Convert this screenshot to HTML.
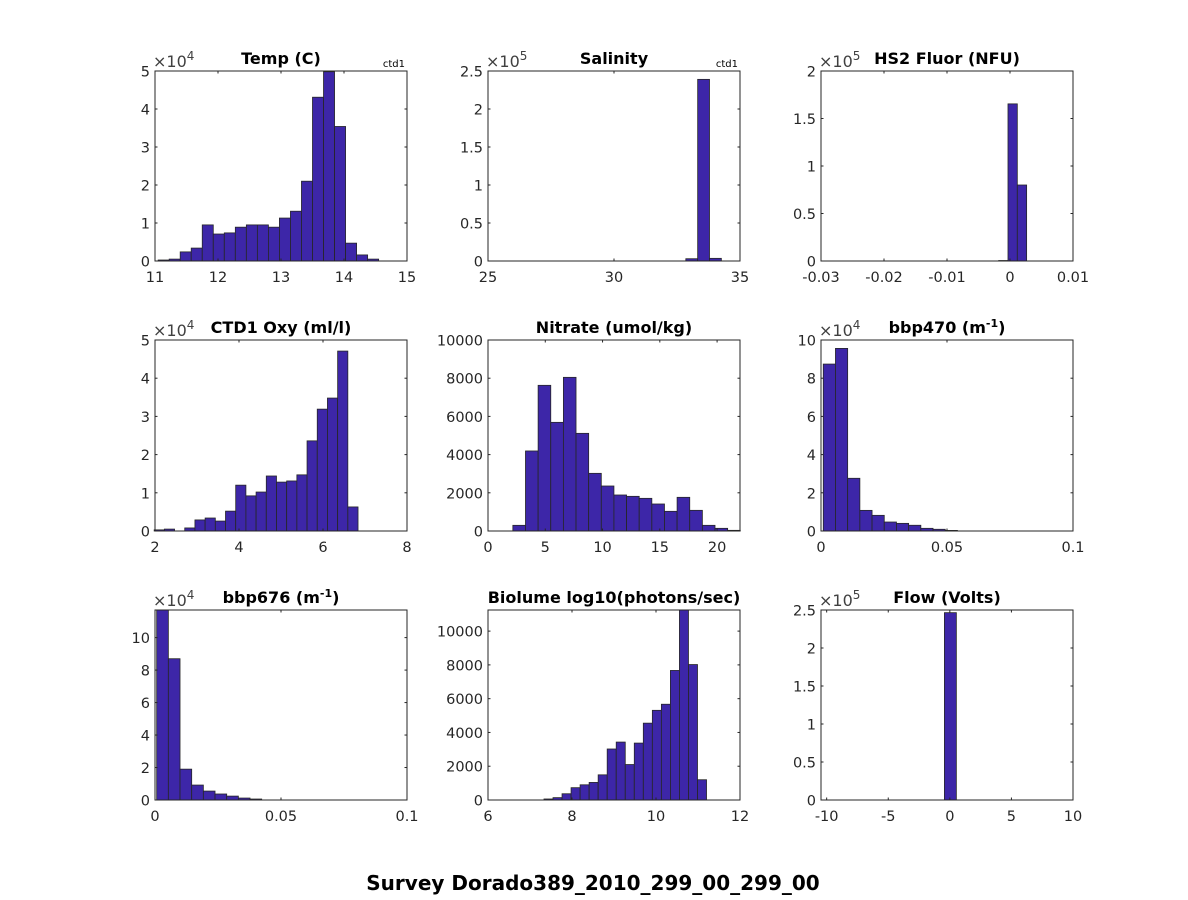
<!DOCTYPE html>
<html><head><meta charset="utf-8"><style>
html,body{margin:0;padding:0;background:#fff;}
svg{display:block;font-family:"DejaVu Sans","Liberation Sans",sans-serif;}
</style></head><body>
<svg id="fig" width="1188" height="900" viewBox="0 0 1188 900" xmlns="http://www.w3.org/2000/svg">
<rect width="1188" height="900" fill="#fff"/>
<text x="593" y="890" text-anchor="middle" font-size="20" font-weight="bold" fill="#000">Survey Dorado389_2010_299_00_299_00</text>
</svg>
<script>
// ---- data (counts scaled by exponent shown on axis) ----
const tempCounts = [0.026,0.05,0.24,0.34,0.95,0.71,0.74,0.89,0.95,0.95,0.89,1.13,1.31,2.10,4.31,4.98,3.54,0.47,0.16,0.05];
const salCounts = [0.03,2.39,0.035];
const fluorCounts = [0.005,1.654,0.80];
const oxyCounts = [0.03,0.05,0,0.08,0.29,0.34,0.26,0.52,1.2,0.92,1.02,1.44,1.28,1.31,1.47,2.36,3.19,3.48,4.71,0.63];
const nitrateCounts = [297,4190,7627,5689,8045,5113,3019,2356,1885,1815,1710,1414,1030,1763,1082,297,140,35];
const bbp470Counts = [8.74,9.56,2.76,1.08,0.82,0.47,0.40,0.30,0.14,0.09,0.03];
const bbp676Counts = [12.0,8.7,1.9,0.92,0.55,0.37,0.24,0.12,0.06];
const biolumeCounts = [60,140,370,730,900,1040,1490,3020,3430,2100,3370,4550,5310,5670,7670,11500,8020,1200];
const flowCounts = [2.465];
const tempXTicks = [11,12,13,14,15];
const tempYTicks = [0,1,2,3,4,5];
const salXTicks = [25,30,35];
const salYTicks = [0,0.5,1,1.5,2,2.5];
const fluorXTicks = [-0.03,-0.02,-0.01,0,0.01];
const fluorYTicks = [0,0.5,1,1.5,2];
const oxyXTicks = [2,4,6,8];
const oxyYTicks = [0,1,2,3,4,5];
const nitrateXTicks = [0,5,10,15,20];
const nitrateYTicks = [0,2000,4000,6000,8000,10000];
const bbpXTicks = [0,0.05,0.1];
const bbpYTicks = [0,2,4,6,8,10];
const biolumeXTicks = [6,8,10,12];
const biolumeYTicks = [0,2000,4000,6000,8000,10000];
const flowXTicks = [-10,-5,0,5,10];
const flowYTicks = [0,0.5,1,1.5,2,2.5];

const panels = [
 {name:'temp',title:'Temp (C)',ctd:true,exp:'4',x:155,y:71,h:190,xmin:11,xmax:15,ymax:5,start:11.05,bw:0.175,counts:tempCounts,xt:tempXTicks,yt:tempYTicks},
 {name:'salinity',title:'Salinity',ctd:true,exp:'5',x:488,y:71,h:190,xmin:25,xmax:35,ymax:2.5,start:32.85,bw:0.47,counts:salCounts,xt:salXTicks,yt:salYTicks},
 {name:'fluor',title:'HS2 Fluor (NFU)',exp:'5',x:821,y:71,h:190,xmin:-0.03,xmax:0.01,ymax:2,start:-0.0018,bw:0.00148,counts:fluorCounts,xt:fluorXTicks,yt:fluorYTicks},
 {name:'oxy',title:'CTD1 Oxy (ml/l)',exp:'4',x:155,y:340,h:191,xmin:2,xmax:8,ymax:5,start:1.98,bw:0.2427,counts:oxyCounts,xt:oxyXTicks,yt:oxyYTicks},
 {name:'nitrate',title:'Nitrate (umol/kg)',x:488,y:340,h:191,xmin:0,xmax:22,ymax:10000,start:2.17,bw:1.103,counts:nitrateCounts,xt:nitrateXTicks,yt:nitrateYTicks},
 {name:'bbp470',title:'bbp470 (m',sup:true,exp:'4',x:821,y:340,h:191,xmin:0,xmax:0.1,ymax:10,start:0.0009,bw:0.00484,counts:bbp470Counts,xt:bbpXTicks,yt:bbpYTicks},
 {name:'bbp676',title:'bbp676 (m',sup:true,exp:'4',x:155,y:610,h:190,xmin:0,xmax:0.1,ymax:11.7,start:0.00067,bw:0.00463,counts:bbp676Counts,xt:bbpXTicks,yt:bbpYTicks},
 {name:'biolume',title:'Biolume log10(photons/sec)',x:488,y:610,h:190,xmin:6,xmax:12,ymax:11250,start:7.333,bw:0.215,counts:biolumeCounts,xt:biolumeXTicks,yt:biolumeYTicks},
 {name:'flow',title:'Flow (Volts)',exp:'5',x:821,y:610,h:190,xmin:-10.46,xmax:10,ymax:2.5,start:-0.44,bw:0.97,counts:flowCounts,xt:flowXTicks,yt:flowYTicks}
];
const NS='http://www.w3.org/2000/svg';
const fig=document.getElementById('fig');
function mk(tag,attrs,parent,txt){const e=document.createElementNS(NS,tag);for(const k in attrs)e.setAttribute(k,attrs[k]);if(txt!==undefined)e.textContent=txt;parent.appendChild(e);return e;}
function fmt(v){return String(+v.toFixed(4));}
panels.forEach(p=>{
 const W=252,H=p.h;
 const sx=v=>p.x+(v-p.xmin)/(p.xmax-p.xmin)*W;
 const sy=v=>p.y+H-Math.min(v,p.ymax)/p.ymax*H;
 const g=mk('g',{},fig);
 
 
 p.counts.forEach((c,i)=>{
  if(c<=0)return;
  const x0=sx(p.start+i*p.bw),x1=sx(p.start+(i+1)*p.bw);
  const r=mk('rect',{x:x0,y:sy(c),width:x1-x0,height:p.y+H-sy(c),fill:'#3d26a8',stroke:'#262626','stroke-width':0.8},g);
  
  
 });
 const ax=mk('rect',{x:p.x,y:p.y,width:W,height:H,fill:'none',stroke:'#262626','stroke-width':1},g);
 
 
 p.xt.forEach(t=>{
  const x=sx(t);
  mk('line',{x1:x,x2:x,y1:p.y+H,y2:p.y+H-2.5,stroke:'#262626'},g);
  mk('line',{x1:x,x2:x,y1:p.y,y2:p.y+2.5,stroke:'#262626'},g);
  const l=mk('text',{x:x,y:p.y+H+21,'text-anchor':'middle','font-size':14.5,fill:'#262626'},g,fmt(t));
  
  
 });
 p.yt.forEach(t=>{
  const y=sy(t);
  mk('line',{x1:p.x,x2:p.x+2.5,y1:y,y2:y,stroke:'#262626'},g);
  mk('line',{x1:p.x+W,x2:p.x+W-2.5,y1:y,y2:y,stroke:'#262626'},g);
  const l=mk('text',{x:p.x-5,y:y+5.5,'text-anchor':'end','font-size':14.5,fill:'#262626'},g,fmt(t));
  
  
 });
 const tt=mk('text',{x:p.x+W/2,y:p.y-7,'text-anchor':'middle','font-size':16,'font-weight':'bold',fill:'#000'},g,p.title);
 if(p.sup){mk('tspan',{dy:-6,'font-size':11},tt,'-1');mk('tspan',{dy:6},tt,')');}
 
 
 if(p.exp){
  const e=mk('text',{x:p.x-2,y:p.y-4,'font-size':16,fill:'#404040'},g,'×10');
  mk('tspan',{dy:-7,'font-size':12},e,p.exp);
  
  
 }
 if(p.ctd){
  const c=mk('text',{x:p.x+W-2,y:p.y-4,'text-anchor':'end','font-size':10,fill:'#000'},g,'ctd1');
  
  
 }
});
</script>
</body></html>
